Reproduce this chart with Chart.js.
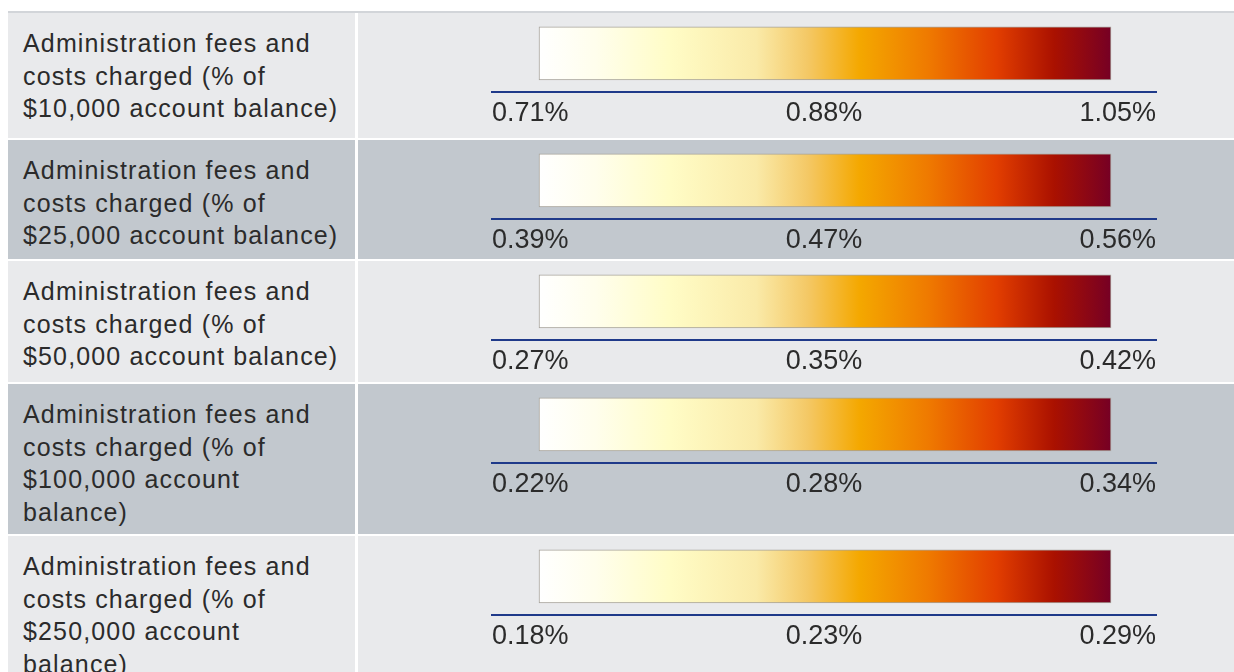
<!DOCTYPE html>
<html>
<head>
<meta charset="utf-8">
<script src="https://cdn.jsdelivr.net/npm/chart.js@4/dist/chart.umd.min.js"></script>
<style>
  body { margin: 0; background: #ffffff; width: 1234px; height: 672px; overflow: hidden; }
  #table { position: absolute; left: 8px; top: 11px; width: 1226px; border-top: 2px solid #d2d5d9; }
  .row { display: flex; margin-bottom: 2px; }
  .row.light .cell { background: #e9eaec; }
  .row.dark .cell { background: #c2c8ce; }
  .label { width: 332px; padding: 14px 0 0 15px; box-sizing: content-box; margin-right: 3px;
           font-family: "Liberation Sans", Arial, sans-serif; font-size: 25px; line-height: 32.5px;
           letter-spacing: 1.15px; color: #2b2b2b; }
  .plot { flex: 1; }
  canvas { display: block; }
</style>
</head>
<body>
<div id="table"></div>
<script>
// each category is one table row
const categories = [
    ['Administration fees and', 'costs charged (% of', '$10,000 account balance)'],
    ['Administration fees and', 'costs charged (% of', '$25,000 account balance)'],
    ['Administration fees and', 'costs charged (% of', '$50,000 account balance)'],
    ['Administration fees and', 'costs charged (% of', '$100,000 account', 'balance)'],
    ['Administration fees and', 'costs charged (% of', '$250,000 account', 'balance)']
];
const lowValues  = [0.71, 0.39, 0.27, 0.22, 0.18];
const midValues  = [0.88, 0.47, 0.35, 0.28, 0.23];
const highValues = [1.05, 0.56, 0.42, 0.34, 0.29];

const rowHeights = [125, 119, 121, 150, 150];
const gradientStops = [
    [0.00, '#ffffff'], [0.10, '#fffeec'], [0.23, '#fffcc6'], [0.38, '#faeaa8'],
    [0.47, '#f4c865'], [0.56, '#f4a800'], [0.68, '#ef7a00'], [0.80, '#e23e00'],
    [0.90, '#aa1100'], [1.00, '#760024']
];

const table = document.getElementById('table');

categories.forEach((lines, i) => {
    const row = document.createElement('div');
    row.className = 'row ' + (i % 2 === 0 ? 'light' : 'dark');
    row.style.height = rowHeights[i] + 'px';
    row.innerHTML = `<div class="cell label">${lines.join('<br>')}</div>
                     <div class="cell plot"><canvas width="875" height="123"></canvas></div>`;
    table.appendChild(row);

    const low = lowValues[i], mid = midValues[i], high = highValues[i];
    const span = high - low;
    const tickLabels = [low, mid, high].map(v => v.toFixed(2) + '%');

    new Chart(row.querySelector('canvas'), {
        type: 'bar',
        data: {
            labels: [''],
            datasets: [{
                data: [[low, high]],
                xAxisID: 'x2',
                barThickness: 53,
                borderWidth: 1,
                borderSkipped: false,
                borderColor: '#a6a29a',
                backgroundColor: (ctx) => {
                    const chart = ctx.chart;
                    if (!chart.chartArea) return '#f4a800';
                    const xs = chart.scales.x2;
                    const g = chart.ctx.createLinearGradient(xs.getPixelForValue(low), 0, xs.getPixelForValue(high), 0);
                    gradientStops.forEach(s => g.addColorStop(s[0], s[1]));
                    return g;
                }
            }]
        },
        options: {
            indexAxis: 'y',
            responsive: false,
            animation: false,
            layout: { padding: { left: 134, right: 77, top: 2, bottom: 0 } },
            plugins: { legend: { display: false }, tooltip: { enabled: false } },
            scales: {
                y: { display: false },
                x: {
                    type: 'linear',
                    min: low,
                    max: high,
                    afterBuildTicks: (scale) => {
                        scale.ticks = [{ value: low }, { value: (low + high) / 2 }, { value: high }];
                    },
                    grid: { display: false, drawTicks: false },
                    border: { display: true, color: '#1f3a8a', width: 2 },
                    ticks: {
                        autoSkip: false,
                        maxRotation: 0,
                        align: 'inner',
                        padding: 6,
                        color: '#2b2b2b',
                        font: { family: 'Liberation Sans, Arial, sans-serif', size: 27 },
                        callback: (v, idx) => tickLabels[idx]
                    }
                },
                x2: {
                    type: 'linear',
                    display: false,
                    min: low - span * 47 / 572,
                    max: high + span * 45 / 572
                }
            }
        }
    });
});
</script>
</body>
</html>
